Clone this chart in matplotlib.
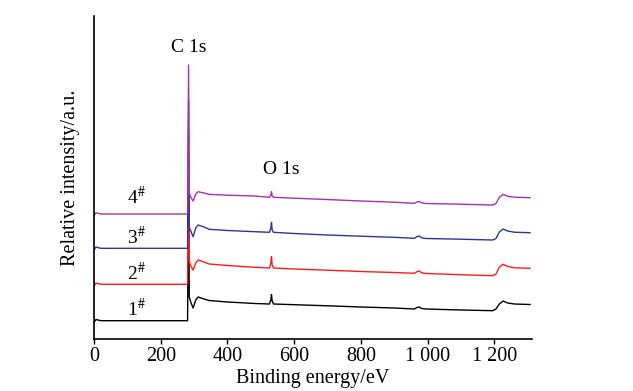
import matplotlib
matplotlib.use("Agg")
import matplotlib.pyplot as plt

plt.rcParams['font.family'] = ['Liberation Serif', 'DejaVu Serif']
plt.rcParams['mathtext.fontset'] = 'stix'

# binding energy (eV) of the read-off points
energy = [0, 6, 14, 22, 280.5, 283.5, 285.5, 290, 297, 305, 312, 330, 345, 400, 483,
          526, 530, 532, 534, 538, 600, 700, 800, 900, 960, 968, 975, 982, 995,
          1100, 1195, 1205, 1215, 1226, 1240, 1260, 1307]

# relative intensity of each sample (arbitrary units, stacked)
s1 = [16.5, 19.5, 18.8, 18.3, 18.3, 168, 42, 37, 31, 39, 42, 40, 38.5, 37, 35.5,
      35, 39, 44.5, 38, 35, 34.3, 33.2, 32, 31, 30, 31.5, 32, 30.5, 30,
      29, 28.3, 30, 35, 38, 36, 35, 34.5]
s2 = [53, 56, 55.2, 54.7, 54.7, 205, 78, 73, 69, 76, 79, 77, 75, 73.5, 71.7,
      71, 76, 82.3, 74, 71, 70, 68.8, 67.5, 66.5, 65.7, 67.2, 68, 66.2, 65.5,
      64.3, 63.3, 65, 71.7, 74.7, 72.7, 71.2, 70.7]
s3 = [89, 92, 91.2, 90.7, 90.7, 240, 112, 108, 102.3, 111, 114, 112, 109.7, 108.5, 107.3,
      106.7, 111, 116.7, 109, 106.7, 105.5, 104, 102.8, 101.7, 100.7, 102.3, 103, 101.2, 100.5,
      99.8, 99, 100.5, 107, 110, 108, 106.8, 106.3]
s4 = [123.3, 126.3, 125.5, 125, 125, 274, 146, 142, 138, 145, 147.3, 146, 144.7, 143.8, 143,
      141.7, 144, 147.3, 143, 141.7, 140.8, 139.5, 138, 136.8, 135.7, 137, 137.5, 136.2, 135.5,
      134.8, 134, 135.5, 141.7, 144.7, 142.7, 141.8, 141.3]

series = [s1, s2, s3, s4]
colors = ['#000000', '#ff1a1a', '#2b35a0', '#a832a8']
labels = ['1$^{\\#}$', '2$^{\\#}$', '3$^{\\#}$', '4$^{\\#}$']
label_y = [30, 66, 102, 142]

fig = plt.figure(figsize=(6.33, 3.91), dpi=100)
ax = fig.add_axes([0.1485, 0.133, 0.692, 0.826])

for y, c in zip(series, colors):
    ax.plot(energy, y, color=c, lw=1.0)

for lab, yy in zip(labels, label_y):
    ax.text(126, yy, lab, fontsize=14, ha='center', va='center')

ax.text(283, 292, 'C 1s', fontsize=14, ha='center', va='center')
ax.text(561, 170, 'O 1s', fontsize=14, ha='center', va='center')

ax.set_xlim(0, 1313)
ax.set_ylim(0, 323)
ax.set_xticks([0, 200, 400, 600, 800, 1000, 1200])
ax.set_xticklabels(['0', '200', '400', '600', '800', '1 000', '1 200'])
ax.set_yticks([])
ax.tick_params(axis='x', direction='out', length=3.5, width=1, labelsize=14.5, pad=2)
for side in ['top', 'right']:
    ax.spines[side].set_visible(False)
for side in ['left', 'bottom']:
    ax.spines[side].set_linewidth(1.2)

ax.set_xlabel('Binding energy/eV', fontsize=14.5)
ax.xaxis.set_label_coords(0.5, -0.092)
ax.set_ylabel('Relative intensity/a.u.', fontsize=14.5)
ax.yaxis.set_label_coords(-0.031, 0.5)

fig.savefig('out.png', dpi=100)
